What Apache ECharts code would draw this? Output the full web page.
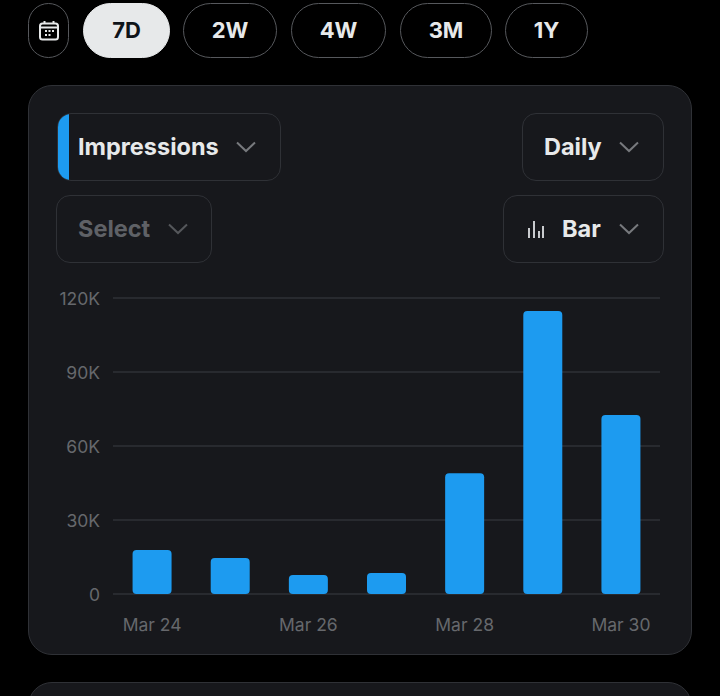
<!DOCTYPE html>
<html><head><meta charset="utf-8">
<script src="https://cdn.jsdelivr.net/npm/echarts@6/dist/echarts.min.js"></script>
<style>
html,body{margin:0;padding:0;background:#000;width:720px;height:696px;overflow:hidden;font-family:Inter,"Noto Sans",sans-serif}
.a{position:absolute;box-sizing:border-box}
.pill{top:3px;height:55px;border:1px solid #56585c;border-radius:28px;color:#e7e9ea;font-weight:700;font-size:22px;line-height:53px;text-align:center}
.pill.on{background:#e7e9ea;color:#0f1419;border-color:#e7e9ea}
.card{background:#17181c;border:1px solid #2f3136;border-radius:24px}
.dd{border:1px solid #2f3136;border-radius:14px;height:68px;background:#17181c;color:#e7e9ea;font-weight:700;font-size:23.5px;line-height:66px}
.t{position:absolute;top:0;white-space:nowrap}
svg.c{position:absolute;top:27px}
#chart{position:absolute;left:0;top:0;width:720px;height:696px}
</style></head><body>
<div class="a pill" style="left:28px;width:41px"></div>
<svg class="a" style="left:38px;top:20px" width="22" height="22" viewBox="0 0 22 22" fill="none" stroke="#e7e9ea" stroke-width="2"><rect x="2" y="3.5" width="18" height="16" rx="2.5"/><path d="M2 7.5H20M6.5 1V4M15.5 1V4"/><path d="M7 11H9M10.5 11H12.5M14 11H16M7 15H9M10.5 15H12.5" stroke-width="1.8"/></svg>
<div class="a pill on" style="left:83px;width:87px">7D</div>
<div class="a pill" style="left:183px;width:94px">2W</div>
<div class="a pill" style="left:291px;width:95px">4W</div>
<div class="a pill" style="left:400px;width:92px">3M</div>
<div class="a pill" style="left:505px;width:83px">1Y</div>
<div class="a card" style="left:28px;top:85px;width:664px;height:570px"></div>
<div class="a card" style="left:28px;top:682px;width:664px;height:60px"></div>
<div class="a dd" style="left:57px;top:113px;width:224px;overflow:hidden"><div class="a" style="left:-1px;top:-1px;width:12px;height:68px;background:#1d9bf0"></div><span class="t" style="left:20px">Impressions</span><svg class="c c1" style="left:178px" width="20" height="12" viewBox="0 0 20 12" fill="none" stroke="#77797d" stroke-width="2"><path d="M1 1.5L10 10L19 1.5"/></svg></div>
<div class="a dd" style="left:56px;top:195px;width:156px;color:#5f6166"><span class="t" style="left:21px">Select</span><svg class="c" style="left:111px" width="20" height="12" viewBox="0 0 20 12" fill="none" stroke="#55575b" stroke-width="2"><path d="M1 1.5L10 10L19 1.5"/></svg></div>
<div class="a dd" style="left:522px;top:113px;width:142px"><span class="t" style="left:21px">Daily</span><svg class="c" style="left:96px" width="20" height="12" viewBox="0 0 20 12" fill="none" stroke="#77797d" stroke-width="2"><path d="M1 1.5L10 10L19 1.5"/></svg></div>
<div class="a dd" style="left:503px;top:195px;width:161px"><svg class="a" style="left:23px;top:23px" width="18" height="20" viewBox="0 0 18 20" fill="#c9cbce"><rect x="1" y="9" width="2" height="10"/><rect x="6" y="2" width="2" height="17"/><rect x="11" y="12" width="2" height="7"/><rect x="15" y="7" width="2" height="12"/></svg><span class="t" style="left:58px">Bar</span><svg class="c" style="left:115px" width="20" height="12" viewBox="0 0 20 12" fill="none" stroke="#77797d" stroke-width="2"><path d="M1 1.5L10 10L19 1.5"/></svg></div>
<div id="chart"></div>
<script>
const categories = ["Mar 24","Mar 25","Mar 26","Mar 27","Mar 28","Mar 29","Mar 30"];
const impressions = [17800,14600,7700,8500,49000,114700,72600];
const yTicks = {0:"0",30000:"30K",60000:"60K",90000:"90K",120000:"120K"};
const chart = echarts.init(document.getElementById('chart'), null, {renderer:'svg'});
chart.setOption({
  animation:false,
  backgroundColor:'transparent',
  grid:{left:113,right:60,top:298,bottom:102,containLabel:false},
  xAxis:{type:'category',data:categories,
    axisLine:{show:false},axisTick:{show:false},
    axisLabel:{interval:1,color:'#66686c',fontSize:17.5,fontFamily:'Inter',margin:21,hideOverlap:false}},
  yAxis:{type:'value',min:0,max:120000,interval:30000,
    axisLine:{show:false},axisTick:{show:false},
    splitLine:{lineStyle:{color:'#2f3136',width:1.5}},
    axisLabel:{color:'#66686c',fontSize:17.5,fontFamily:'Inter',margin:13,formatter:v=>yTicks[v]}},
  series:[{type:'bar',data:impressions,barWidth:39,
    itemStyle:{color:'#1d9bf0',borderRadius:4}}]
});
</script>
</body></html>
